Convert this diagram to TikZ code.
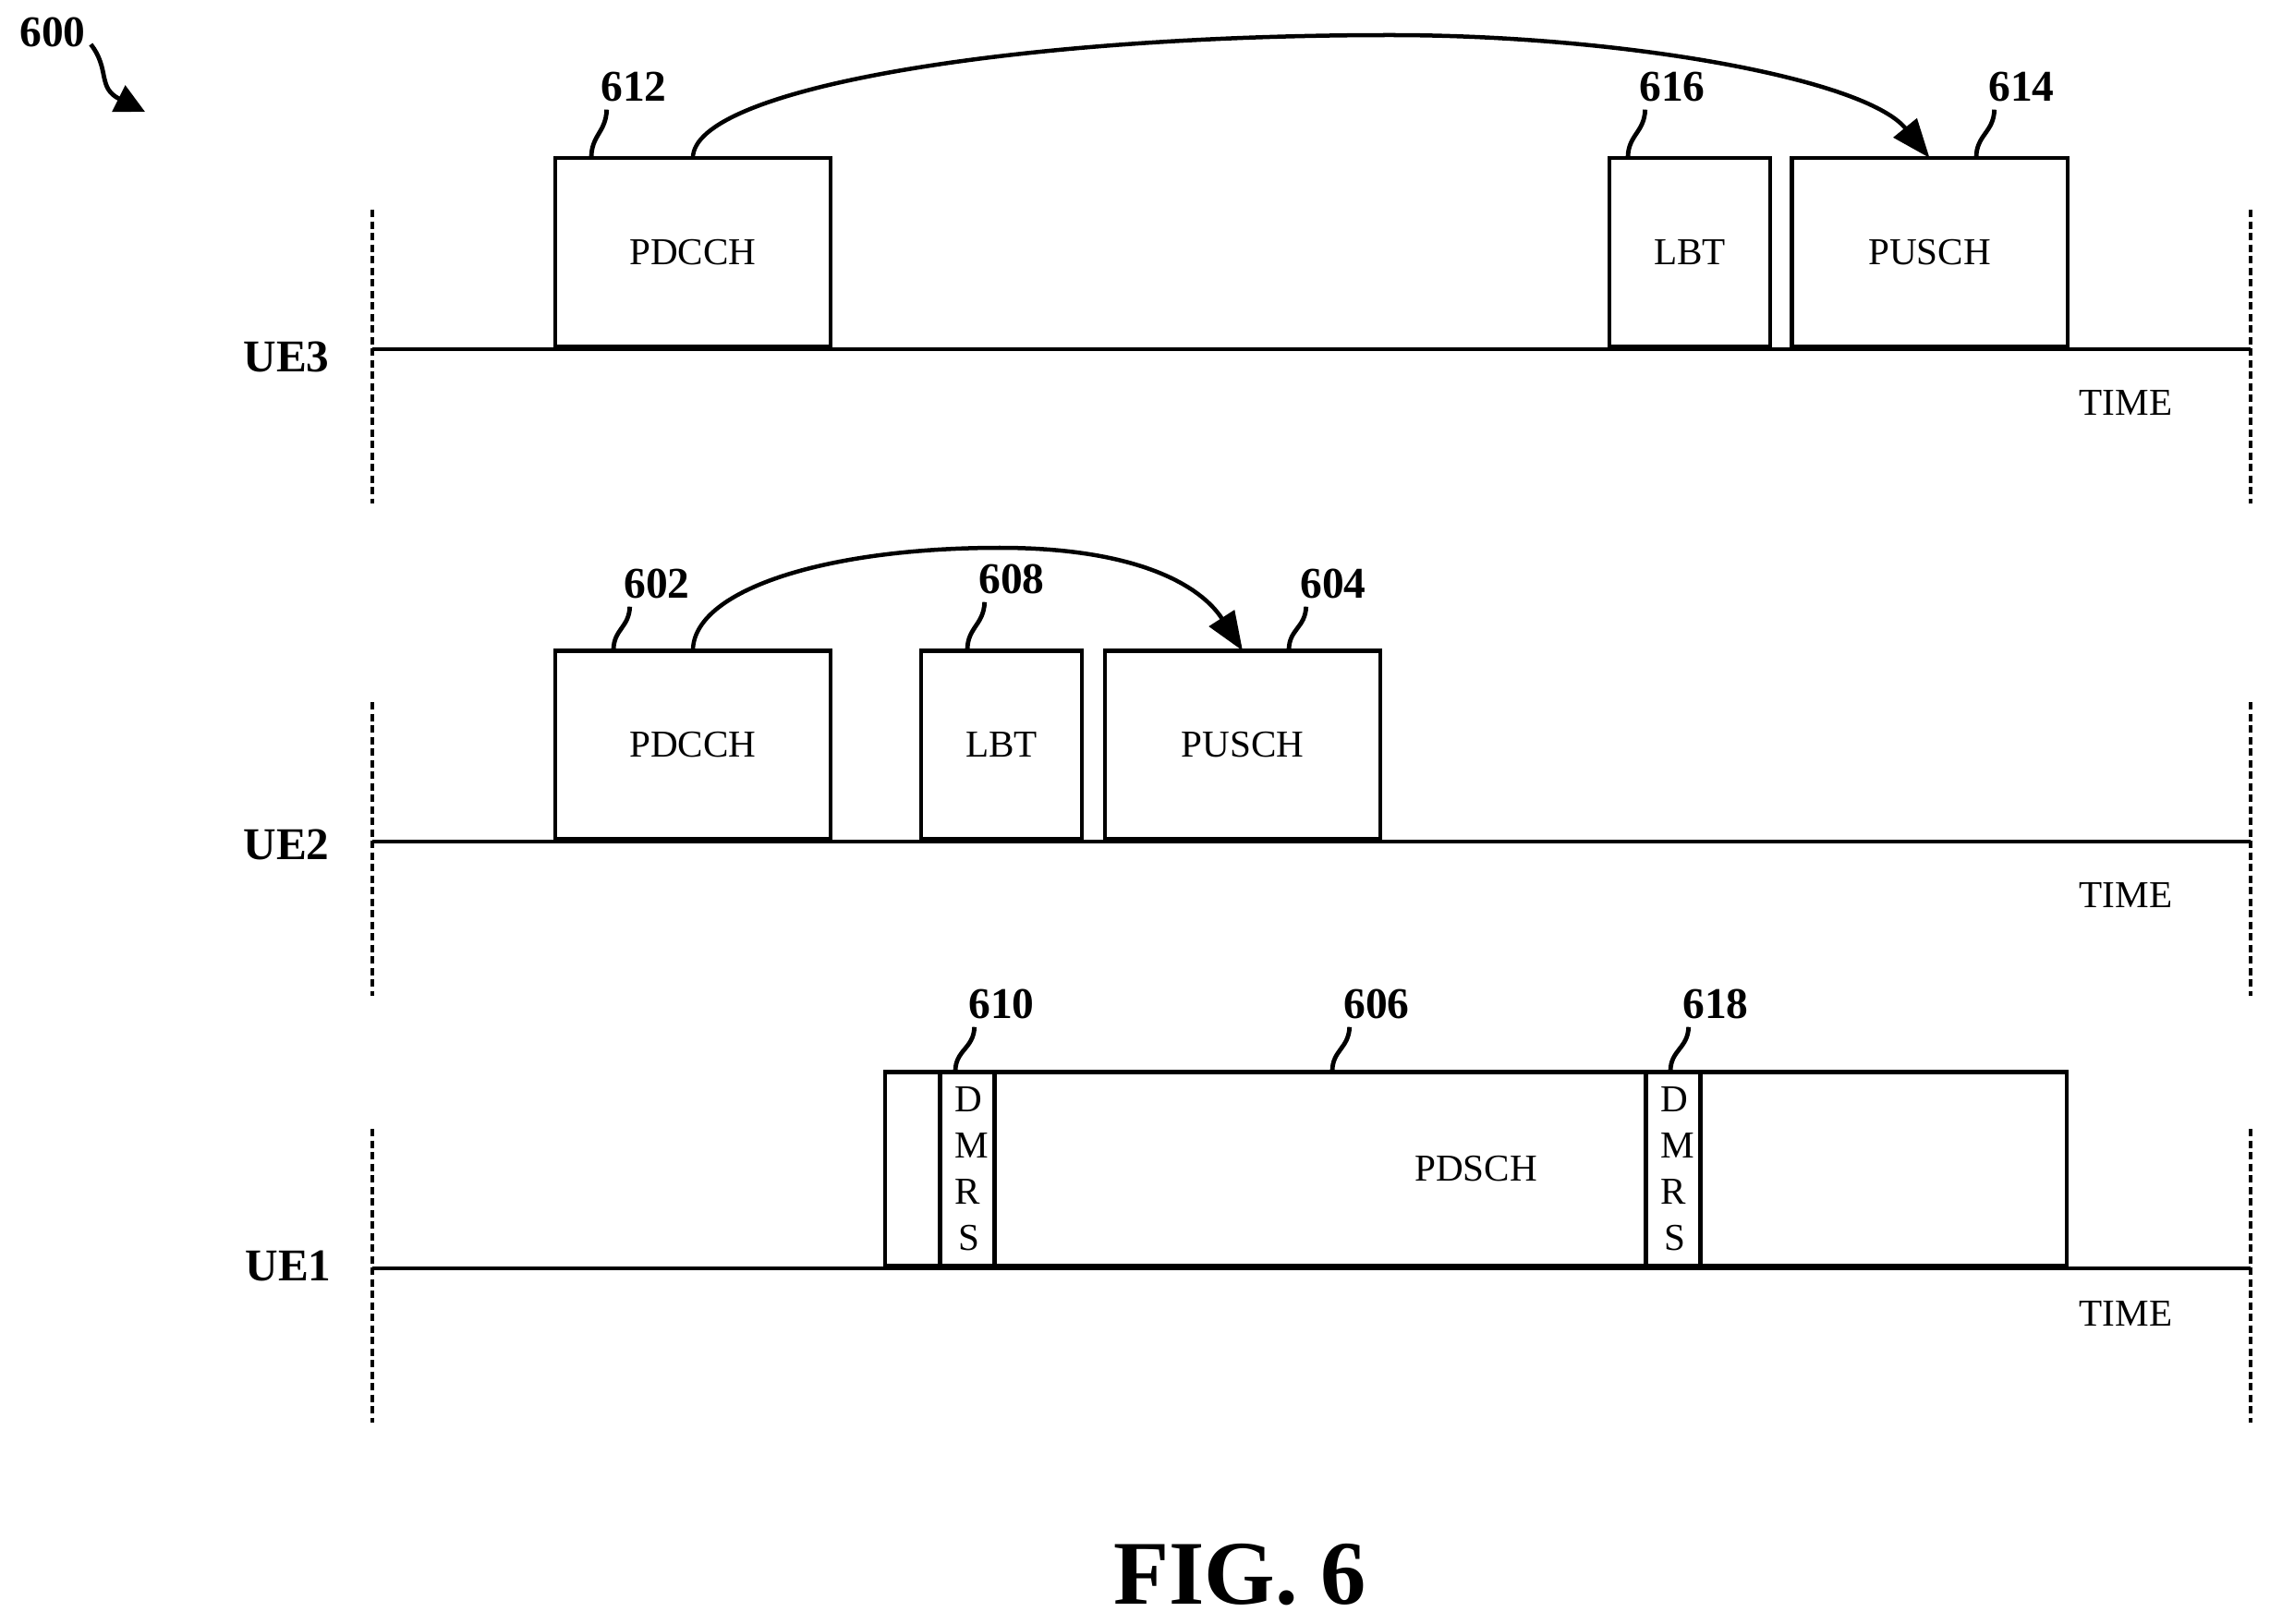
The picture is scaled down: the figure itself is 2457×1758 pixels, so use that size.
\documentclass[tikz,border=0pt]{standalone}
\usepackage{fontspec}
\setmainfont{Liberation Serif}
\usetikzlibrary{arrows.meta}

\begin{document}
\begin{tikzpicture}
		[x=0.01cm, y=-0.01cm,
		>={Triangle[length=0.42cm,width=0.32cm]},
		b/.style= {draw=black,line width=0.042cm,inner sep=0pt,outer sep=0pt,font=\fontsize{11.7}{14.2}\selectfont},
		wide/.style= {b,minimum width=2.98cm,minimum height=2.04cm},
		slim/.style= {b,minimum width=1.74cm,minimum height=2.04cm},
		thin/.style= {b,minimum width=0.59cm,minimum height=2.10cm,align=left},
		t/.style= {inner sep=0pt,font=\fontsize{11.7}{14.2}\selectfont},
		num/.style= {inner sep=0pt,font=\bfseries\fontsize{13.5}{16}\selectfont},
		ue/.style= {inner sep=0pt,font=\bfseries\fontsize{14}{16}\selectfont},
		axis/.style= {line width=0.04cm},
		side/.style= {line width=0.04cm,dash pattern=on 0.08cm off 0.045cm},
		lead/.style= {line width=0.048cm,out=268,in=90,looseness=1.15},
		curve/.style= {line width=0.045cm}]

		\useasboundingbox (0,0) rectangle (2457,1758);

		\coordinate (a3l) at (403,378);
		\coordinate (a3r) at (2436,378);
		\coordinate (a2l) at (403,911);
		\coordinate (a2r) at (2436,911);
		\coordinate (a1l) at (403,1373);
		\coordinate (a1r) at (2436,1373);

		\coordinate (d3t) at (403,227);
		\coordinate (d3b) at (403,545);
		\coordinate (e3t) at (2436,227);
		\coordinate (e3b) at (2436,545);
		\coordinate (d2t) at (403,760);
		\coordinate (d2b) at (403,1078);
		\coordinate (e2t) at (2436,760);
		\coordinate (e2b) at (2436,1078);
		\coordinate (d1t) at (403,1222);
		\coordinate (d1b) at (403,1540);
		\coordinate (e1t) at (2436,1222);
		\coordinate (e1b) at (2436,1540);

		\draw[axis] (a3l) -- (a3r);
		\draw[axis] (a2l) -- (a2r);
		\draw[axis] (a1l) -- (a1r);
		\draw[side] (d3t) -- (d3b);
		\draw[side] (e3t) -- (e3b);
		\draw[side] (d2t) -- (d2b);
		\draw[side] (e2t) -- (e2b);
		\draw[side] (d1t) -- (d1b);
		\draw[side] (e1t) -- (e1b);

		\node[wide] (c3) at (750,273) {PDCCH};
		\node[slim] (l3) at (1829,273) {LBT};
		\node[wide] (s3) at (2088.5,273) {PUSCH};

		\node[wide] (c2) at (750,806.5) {PDCCH};
		\node[slim] (l2) at (1084,806.5) {LBT};
		\node[wide] (s2) at (1345,806.5) {PUSCH};

		\node[b,minimum width=12.79cm,minimum height=2.10cm] (p1) at (1597.5,1265.5) {PDSCH};
		\node[thin] (m1) at (1047,1265.5) {\hspace*{0.1cm}D\\\hspace*{0.1cm}M\\\hspace*{0.1cm}R\\\hspace*{0.14cm}S};
		\node[thin] (m2) at (1811,1265.5) {\hspace*{0.1cm}D\\\hspace*{0.1cm}M\\\hspace*{0.1cm}R\\\hspace*{0.14cm}S};

		\node[t] (t3) at (2301,436) {TIME};
		\node[t] (t2) at (2301,969) {TIME};
		\node[t] (t1) at (2301,1422) {TIME};

		\node[ue] (ue3) at (310,386) {UE3};
		\node[ue] (ue2) at (310,914) {UE2};
		\node[ue] (ue1) at (312,1370) {UE1};

		\node[num] (n600) at (57,35) {600};
		\coordinate (p600) at (157,121);
		\draw[->,line width=0.048cm,>={Triangle[length=0.32cm,width=0.31cm]}] ([shift={(5,13)}]n600.east) .. controls +(21,27) and +(-52,-26) .. (p600);

		\coordinate (h3) at (1505,38);
		\draw[->,curve] (c3.north) .. controls +(0,-75) and +(-408,0) .. (h3) .. controls +(250,0) and +(-70,-86) .. (s3.north);
		\coordinate (h2) at (1082,593);
		\draw[->,curve] (c2.north) .. controls +(0,-65) and +(-190,0) .. (h2) .. controls +(150,0) and +(-45,-70) .. (s2.north);

		\node[num] (n612) at (686,94) {612};
		\coordinate (k612) at (640,171);
		\draw[lead] ([shift={(7,8)}]n612.south west) to (k612);

		\node[num] (n616) at (1810,94) {616};
		\coordinate (k616) at (1762,171);
		\draw[lead] ([shift={(7,8)}]n616.south west) to (k616);

		\node[num] (n614) at (2188,94) {614};
		\coordinate (k614) at (2139,171);
		\draw[lead] ([shift={(7,8)}]n614.south west) to (k614);

		\node[num] (n602) at (711,632) {602};
		\coordinate (k602) at (664,704);
		\draw[lead] ([shift={(7,8)}]n602.south west) to (k602);

		\node[num] (n608) at (1095,627) {608};
		\coordinate (k608) at (1047,704);
		\draw[lead] ([shift={(7,8)}]n608.south west) to (k608);

		\node[num] (n604) at (1443,632) {604};
		\coordinate (k604) at (1395,704);
		\draw[lead] ([shift={(7,8)}]n604.south west) to (k604);

		\node[num] (n610) at (1084,1087) {610};
		\coordinate (k610) at (1034,1160);
		\draw[lead] ([shift={(7,8)}]n610.south west) to (k610);

		\node[num] (n606) at (1490,1087) {606};
		\coordinate (k606) at (1442,1160);
		\draw[lead] ([shift={(7,8)}]n606.south west) to (k606);

		\node[num] (n618) at (1857,1087) {618};
		\coordinate (k618) at (1808,1160);
		\draw[lead] ([shift={(7,8)}]n618.south west) to (k618);

		\node[inner sep=0pt,font=\bfseries\fontsize{28}{32}\selectfont] (fig) at (1342,1705) {FIG. 6};

\end{tikzpicture}
\end{document}
